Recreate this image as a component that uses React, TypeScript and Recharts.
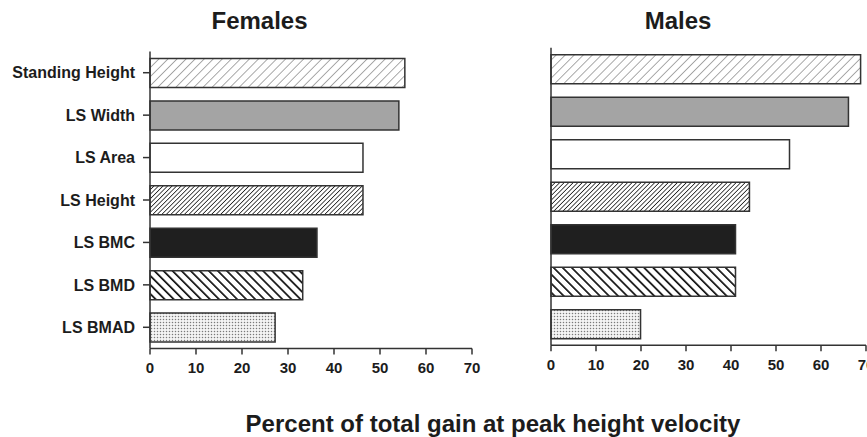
import React from "react";
import { BarChart, Bar, XAxis, YAxis, Cell } from "recharts";

const categories = [
  "Standing Height",
  "LS Width",
  "LS Area",
  "LS Height",
  "LS BMC",
  "LS BMD",
  "LS BMAD",
];
const femaleValues = [55.4, 54.1, 46.3, 46.3, 36.3, 33.2, 27.2];
const maleValues = [68.8, 66.1, 53.0, 44.1, 41.0, 41.0, 19.9];
const xTicks = [0, 10, 20, 30, 40, 50, 60, 70];

// one fill per category, same order in both panels
const FILLS = [
  "url(#hatchLight)",
  "#a4a4a4",
  "#ffffff",
  "url(#hatchDense)",
  "#1f1f1f",
  "url(#hatchBold)",
  "url(#dots)",
];

const FONT = "'Liberation Sans', Arial, Helvetica, sans-serif";
const INK = "#1c1c1c";
const AXIS = "#333";

const femaleData = categories.map((name, i) => ({ name, value: femaleValues[i] }));
const maleData = categories.map((name, i) => ({ name, value: maleValues[i] }));

function Patterns() {
  return (
    <svg width={0} height={0} style={{ position: "absolute" }}>
      <defs>
        <pattern id="hatchLight" width={6.4} height={6.4} patternUnits="userSpaceOnUse" patternTransform="rotate(45)">
          <rect width={6.4} height={6.4} fill="#fff" />
          <line x1={0} y1={0} x2={0} y2={6.4} stroke="#555" strokeWidth={1} />
        </pattern>
        <pattern id="hatchDense" width={3.2} height={3.2} patternUnits="userSpaceOnUse" patternTransform="rotate(45)">
          <rect width={3.2} height={3.2} fill="#fff" />
          <line x1={0} y1={0} x2={0} y2={3.2} stroke="#222" strokeWidth={1.6} />
        </pattern>
        <pattern id="hatchBold" width={6.4} height={6.4} patternUnits="userSpaceOnUse" patternTransform="rotate(-45)">
          <rect width={6.4} height={6.4} fill="#fff" />
          <line x1={0} y1={0} x2={0} y2={6.4} stroke="#111" strokeWidth={3.4} />
        </pattern>
        <pattern id="dots" width={3} height={3} patternUnits="userSpaceOnUse">
          <rect width={3} height={3} fill="#f4f4f4" />
          <circle cx={1.5} cy={1.5} r={0.75} fill="#7a7a7a" />
        </pattern>
      </defs>
    </svg>
  );
}

interface PanelProps {
  data: { name: string; value: number }[];
  width: number;
  height: number;
  top: number;
  right: number;
  bottom: number;
  axisWidth: number;
  showLabels: boolean;
}

function Panel({ data, width, height, top, right, bottom, axisWidth, showLabels }: PanelProps) {
  return (
    <BarChart
      layout="vertical"
      width={width}
      height={height}
      data={data}
      margin={{ top, right, bottom, left: 0 }}
      style={{ overflow: "hidden" }}
    >
      <XAxis
        type="number"
        domain={[0, 70]}
        ticks={xTicks}
        interval={0}
        height={30}
        tickSize={6}
        tickMargin={8}
        axisLine={{ stroke: AXIS, strokeWidth: 1.5 }}
        tickLine={{ stroke: AXIS, strokeWidth: 1.5 }}
        tick={{ fontSize: 15, fill: INK, fontFamily: FONT, fontWeight: 700 }}
      />
      <YAxis
        type="category"
        dataKey="name"
        width={axisWidth}
        interval={0}
        tickSize={7}
        tickMargin={8}
        axisLine={{ stroke: AXIS, strokeWidth: 1.5 }}
        tickLine={{ stroke: AXIS, strokeWidth: 1.5 }}
        tick={showLabels ? { fontSize: 16, fill: INK, fontFamily: FONT, fontWeight: 700 } : false}
      />
      <Bar dataKey="value" barSize={29} stroke={AXIS} strokeWidth={1.5} isAnimationActive={false}>
        {data.map((d, i) => (
          <Cell key={d.name} fill={FILLS[i]} />
        ))}
      </Bar>
    </BarChart>
  );
}

export default function App() {
  return (
    <div
      style={{
        position: "absolute",
        left: 0,
        top: 0,
        width: 867,
        height: 437,
        background: "#fff",
        overflow: "hidden",
        fontFamily: FONT,
      }}
    >
      <Patterns />

      <div style={{ position: "absolute", left: 0, top: 0 }}>
        <Panel
          data={femaleData}
          width={490}
          height={400}
          top={51.5}
          right={18}
          bottom={21.5}
          axisWidth={150}
          showLabels
        />
      </div>

      <div style={{ position: "absolute", left: 520, top: 0 }}>
        <Panel
          data={maleData}
          width={347}
          height={400}
          top={47.75}
          right={1}
          bottom={24.75}
          axisWidth={31}
          showLabels={false}
        />
      </div>

      {/* panel titles and shared axis title */}
      <svg width={867} height={437} style={{ position: "absolute", left: 0, top: 0, pointerEvents: "none" }}>
        <text x={259.5} y={29} textAnchor="middle" fontSize={24} fontWeight={700} fill={INK} fontFamily={FONT}>
          Females
        </text>
        <text x={678} y={29} textAnchor="middle" fontSize={24} fontWeight={700} fill={INK} fontFamily={FONT}>
          Males
        </text>
        <text x={493} y={432} textAnchor="middle" fontSize={24} fontWeight={700} fill={INK} fontFamily={FONT}>
          Percent of total gain at peak height velocity
        </text>
      </svg>
    </div>
  );
}
